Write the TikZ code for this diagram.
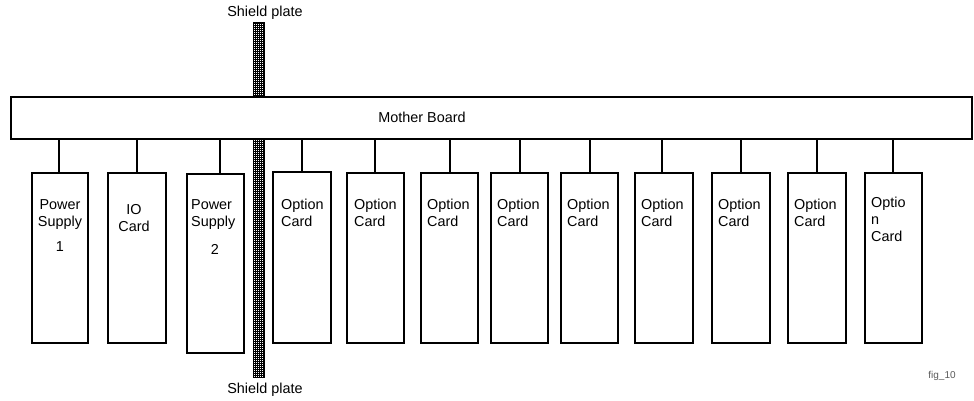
\documentclass[tikz,border=0pt]{standalone}
\usepackage{fontspec}
\setmainfont{Liberation Sans}
\begin{document}
\begin{tikzpicture}[x=1pt,y=-1pt,
  txt/.style={inner sep=0pt,font=\fontsize{14.4}{17.2}\selectfont},
  card/.style={draw=black,line width=1.6pt,fill=white,rectangle,inner sep=0pt},
  wire/.style={draw=black,line width=1.7pt},
  board/.style={draw=black,line width=1.6pt,fill=white,rectangle,inner sep=0pt}]
\useasboundingbox (0,0) rectangle (974,401);
% shield plate
\fill[black] (252.5,22) rectangle (264.5,378);
\fill[white] \foreach \i in {254.5,256.5,258.5,260.5,262.5} {\foreach \j in {24.5,26.5,...,376.5} {(\i-0.42,\j-0.42) rectangle (\i+0.42,\j+0.42)}};
\node[txt,anchor=center] (shtop) at (265,13) {Shield plate};
\node[txt,anchor=center] (shbot) at (265,390) {Shield plate};
% mother board
\node[board,minimum width=961pt,minimum height=42pt] (mb) at (491.5,118) {};
\node[txt,anchor=base] (mbl) at (422,122.5) {Mother Board};
% cards
\node[card,minimum width=56pt,minimum height=170pt] (ps1) at (60,258) {};
\node[card,minimum width=58pt,minimum height=170pt] (io) at (137,258) {};
\node[card,minimum width=57pt,minimum height=179pt] (ps2) at (215.5,263.5) {};
\node[card,minimum width=58pt,minimum height=171pt] (o1) at (302,257.5) {};
\node[card,minimum width=57pt,minimum height=170pt] (o2) at (375.5,258) {};
\node[card,minimum width=57pt,minimum height=170pt] (o3) at (449.5,258) {};
\node[card,minimum width=57pt,minimum height=170pt] (o4) at (519.5,258) {};
\node[card,minimum width=57pt,minimum height=170pt] (o5) at (589.5,258) {};
\node[card,minimum width=58pt,minimum height=170pt] (o6) at (664,258) {};
\node[card,minimum width=58pt,minimum height=170pt] (o7) at (741,258) {};
\node[card,minimum width=58pt,minimum height=170pt] (o8) at (817,258) {};
\node[card,minimum width=57pt,minimum height=170pt] (o9) at (893.5,258) {};
% connectors
\foreach \c/\x in {ps1/59,io/137,ps2/220,o1/302,o2/375,o3/450,o4/520,o5/590,o6/662,o7/741,o8/817,o9/893}{
  \draw[wire] (\x,0 |- \c.north) -- (\x,0 |- mb.south);
}
% card texts
\node[txt,anchor=base] (ps1t) at (60,209) {\begin{tabular}[t]{@{}c@{}}Power\\Supply\\[8.5pt]1\end{tabular}};
\node[txt,anchor=base] (iot) at (134,214) {\begin{tabular}[t]{@{}c@{}}IO\\Card\end{tabular}};
\node[txt,anchor=base west] (ps2t) at (191,209) {\begin{tabular}[t]{@{}l@{}}Power\\Supply\end{tabular}};
\node[txt,anchor=base] (ps2n) at (215,254) {2};
\foreach \c/\x in {o1/281,o2/354,o3/427,o4/497,o5/567,o6/641,o7/718,o8/794}{
  \node[txt,anchor=base west] (\c t) at (\x,209) {\begin{tabular}[t]{@{}l@{}}Option\\Card\end{tabular}};
}
\node[txt,anchor=base west] (o9t) at (871,207) {\begin{tabular}[t]{@{}l@{}}Optio\\n\\Card\end{tabular}};
% figure tag
\node[inner sep=0pt,font=\fontsize{10}{12}\selectfont,text=black!65] (fig) at (942,376) {fig\_10};
\end{tikzpicture}
\end{document}
